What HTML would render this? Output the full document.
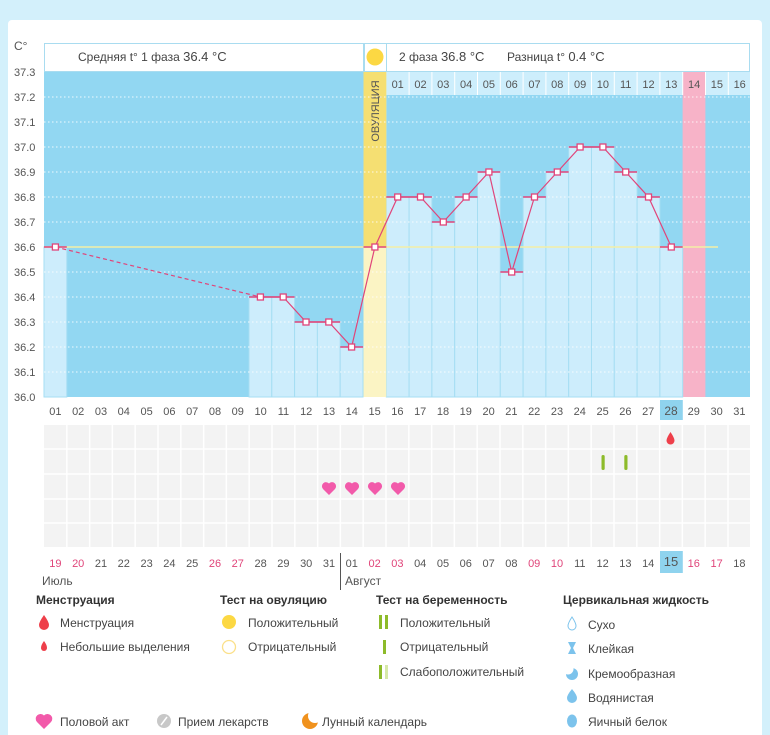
<!DOCTYPE html>
<html><head><meta charset="utf-8"><style>
body{margin:0;background:#d3f0fb;}
svg{display:block;font-family:"Liberation Sans","DejaVu Sans",sans-serif;}
</style></head><body>
<svg width="770" height="735" viewBox="0 0 770 735" xmlns="http://www.w3.org/2000/svg">
<rect x="0" y="0" width="770" height="735" fill="#d3f0fb"/>
<rect x="8" y="20" width="754" height="730" rx="4" fill="#fff"/>
<!-- header -->
<rect x="44.5" y="43.5" width="319" height="28" fill="#fff" stroke="#a9dcf0"/>
<rect x="364.5" y="43.5" width="22" height="28" fill="#fff" stroke="#a9dcf0"/>
<rect x="386.5" y="43.5" width="363" height="28" fill="#fff" stroke="#a9dcf0"/>
<text x="78" y="61" font-size="12" fill="#444">Средняя t° 1 фаза <tspan font-size="13">36.4 °C</tspan></text>
<text x="399" y="61" font-size="12" fill="#444">2 фаза <tspan font-size="13">36.8 °C</tspan></text>
<text x="507" y="61" font-size="12" fill="#444">Разница t° <tspan font-size="13">0.4 °C</tspan></text>
<!-- plot bg -->
<rect x="44" y="72" width="706" height="325" fill="#92d7f2"/>
<rect x="386.3" y="72" width="363.7" height="23" fill="#cdeefc"/>
<rect x="682.6" y="72" width="22.8" height="325" fill="#f7b3c8"/>
<g fill="#cdedfc" stroke="#a6def3" stroke-width="1">
<rect x="44" y="247" width="22.8" height="150"/>
<rect x="249" y="297" width="22.8" height="100"/>
<rect x="271.8" y="297" width="22.8" height="100"/>
<rect x="294.6" y="322" width="22.8" height="75"/>
<rect x="317.4" y="322" width="22.8" height="75"/>
<rect x="340.2" y="347" width="22.8" height="50"/>
<rect x="386.3" y="197" width="22.8" height="200"/>
<rect x="409.1" y="197" width="22.8" height="200"/>
<rect x="431.9" y="222" width="22.8" height="175"/>
<rect x="454.7" y="197" width="22.8" height="200"/>
<rect x="477.5" y="172" width="22.8" height="225"/>
<rect x="500.3" y="272" width="22.8" height="125"/>
<rect x="523.1" y="197" width="22.8" height="200"/>
<rect x="545.9" y="172" width="22.8" height="225"/>
<rect x="568.7" y="147" width="22.8" height="250"/>
<rect x="591.5" y="147" width="22.8" height="250"/>
<rect x="614.3" y="172" width="22.8" height="225"/>
<rect x="637.1" y="197" width="22.8" height="200"/>
<rect x="659.9" y="247" width="22.8" height="150"/>
</g>
<rect x="363.5" y="72" width="22.8" height="325" fill="#fbf4c4"/>
<rect x="363.5" y="72" width="22.8" height="175" fill="#f5df72"/>
<circle cx="375" cy="57" r="8.5" fill="#fcd843"/>
<text transform="translate(379,111) rotate(-90)" font-size="11" fill="#555" text-anchor="middle">ОВУЛЯЦИЯ</text>
<!-- top day labels -->
<g font-size="11" fill="#555" text-anchor="middle">
<text x="397.7" y="88">01</text><text x="420.5" y="88">02</text><text x="443.3" y="88">03</text><text x="466.1" y="88">04</text><text x="488.9" y="88">05</text><text x="511.7" y="88">06</text><text x="534.5" y="88">07</text><text x="557.3" y="88">08</text><text x="580.1" y="88">09</text><text x="602.9" y="88">10</text><text x="625.7" y="88">11</text><text x="648.5" y="88">12</text><text x="671.3" y="88">13</text><text x="694.1" y="88">14</text><text x="716.9" y="88">15</text><text x="739.7" y="88">16</text>
</g>
<g stroke="#fff" stroke-width="1"><path d="M409.1 72v23M431.9 72v23M454.7 72v23M477.5 72v23M500.3 72v23M523.1 72v23M545.9 72v23M568.7 72v23M591.5 72v23M614.3 72v23M637.1 72v23M659.9 72v23M682.7 72v23M705.5 72v23M728.3 72v23"/></g>
<!-- grid -->
<g stroke="#fff" stroke-dasharray="1.5,2.5" stroke-width="1" opacity="0.85">
<path d="M44 97H750M44 122H750M44 147H750M44 172H750M44 197H750M44 222H750M44 272H750M44 297H750M44 322H750M44 347H750M44 372H750"/>
</g>
<path d="M44 247H718" stroke="#f3efa6" stroke-width="1.5"/>
<!-- y labels -->
<g font-size="11" fill="#555">
<text x="14" y="50" font-size="12">C°</text>
<text x="14" y="76">37.3</text><text x="14" y="101">37.2</text><text x="14" y="126">37.1</text><text x="14" y="151">37.0</text><text x="14" y="176">36.9</text><text x="14" y="201">36.8</text><text x="14" y="226">36.7</text><text x="14" y="251">36.6</text><text x="14" y="276">36.5</text><text x="14" y="301">36.4</text><text x="14" y="326">36.3</text><text x="14" y="351">36.2</text><text x="14" y="376">36.1</text><text x="14" y="401">36.0</text>
</g>
<!-- series -->
<g stroke="#e0457a" stroke-width="1.5">
<path d="M44 247h22.8M249 297h45.6M294.6 322h45.6M340.2 347h22.8M363.5 247h22.8M386.3 197h45.6M431.9 222h22.8M454.7 197h22.8M477.5 172h22.8M500.3 272h22.8M523.1 197h22.8M545.9 172h22.8M568.7 147h45.6M614.3 172h22.8M637.1 197h22.8M659.9 247h22.8"/>
</g>
<path d="M55.4 247L260.4 297" stroke="#e0457a" stroke-width="1.2" stroke-dasharray="4,3" fill="none"/>
<polyline points="260.4,297 283.2,297 306,322 328.8,322 351.6,347 374.9,247 397.7,197 420.5,197 443.3,222 466.1,197 488.9,172 511.7,272 534.5,197 557.3,172 580.1,147 602.9,147 625.7,172 648.5,197 671.3,247" fill="none" stroke="#e0457a" stroke-width="1.2"/>
<g fill="#fff" stroke="#e0457a" stroke-width="1.3">
<rect x="52.4" y="244" width="6" height="6"/><rect x="257.4" y="294" width="6" height="6"/><rect x="280.2" y="294" width="6" height="6"/><rect x="303" y="319" width="6" height="6"/><rect x="325.8" y="319" width="6" height="6"/><rect x="348.6" y="344" width="6" height="6"/><rect x="371.9" y="244" width="6" height="6"/><rect x="394.7" y="194" width="6" height="6"/><rect x="417.5" y="194" width="6" height="6"/><rect x="440.3" y="219" width="6" height="6"/><rect x="463.1" y="194" width="6" height="6"/><rect x="485.9" y="169" width="6" height="6"/><rect x="508.7" y="269" width="6" height="6"/><rect x="531.5" y="194" width="6" height="6"/><rect x="554.3" y="169" width="6" height="6"/><rect x="577.1" y="144" width="6" height="6"/><rect x="599.9" y="144" width="6" height="6"/><rect x="622.7" y="169" width="6" height="6"/><rect x="645.5" y="194" width="6" height="6"/><rect x="668.3" y="244" width="6" height="6"/>
</g>
<!-- bottom day row -->
<rect x="660" y="400" width="22.8" height="20" fill="#8fd3ee"/>
<g font-size="11" fill="#555" text-anchor="middle">
<text x="55.4" y="415">01</text><text x="78.2" y="415">02</text><text x="101" y="415">03</text><text x="123.8" y="415">04</text><text x="146.6" y="415">05</text><text x="169.4" y="415">06</text><text x="192.2" y="415">07</text><text x="215" y="415">08</text><text x="237.8" y="415">09</text><text x="260.6" y="415">10</text><text x="283.4" y="415">11</text><text x="306.2" y="415">12</text><text x="329" y="415">13</text><text x="351.8" y="415">14</text><text x="374.6" y="415">15</text><text x="397.4" y="415">16</text><text x="420.2" y="415">17</text><text x="443" y="415">18</text><text x="465.8" y="415">19</text><text x="488.6" y="415">20</text><text x="511.4" y="415">21</text><text x="534.2" y="415">22</text><text x="557" y="415">23</text><text x="579.8" y="415">24</text><text x="602.6" y="415">25</text><text x="625.4" y="415">26</text><text x="648.2" y="415">27</text><text x="671" y="415" font-size="12">28</text><text x="693.8" y="415">29</text><text x="716.6" y="415">30</text><text x="739.4" y="415">31</text>
</g>
<!-- event grid -->
<rect x="44" y="425" width="706" height="122" fill="#f3f3f3"/>
<g stroke="#fff" stroke-width="1.5">
<path d="M44 449H750M44 474H750M44 499H750M44 523H750"/>
<path d="M66.8 425v122M89.6 425v122M112.4 425v122M135.2 425v122M158 425v122M180.8 425v122M203.6 425v122M226.4 425v122M249.2 425v122M272 425v122M294.8 425v122M317.6 425v122M340.4 425v122M363.2 425v122M386 425v122M408.8 425v122M431.6 425v122M454.4 425v122M477.2 425v122M500 425v122M522.8 425v122M545.6 425v122M568.4 425v122M591.2 425v122M614 425v122M636.8 425v122M659.6 425v122M682.4 425v122M705.2 425v122M728 425v122"/>
</g>
<path d="M670.5 432 Q666.5 438 666.5 440.5 A4 4 0 0 0 674.5 440.5 Q674.5 438 670.5 432Z" fill="#ee3f4a"/>
<rect x="601.5" y="455" width="3.2" height="15" rx="1.5" fill="#8dbb2a"/>
<rect x="624.3" y="455" width="3.2" height="15" rx="1.5" fill="#8dbb2a"/>
<g fill="#f25aaa">
<path d="M329 495 L323 489 A3.3 3.3 0 0 1 329 483.5 A3.3 3.3 0 0 1 335 489Z"/>
<path d="M352 495 L346 489 A3.3 3.3 0 0 1 352 483.5 A3.3 3.3 0 0 1 358 489Z"/>
<path d="M375 495 L369 489 A3.3 3.3 0 0 1 375 483.5 A3.3 3.3 0 0 1 381 489Z"/>
<path d="M398 495 L392 489 A3.3 3.3 0 0 1 398 483.5 A3.3 3.3 0 0 1 404 489Z"/>
</g>
<!-- second date row -->
<rect x="660" y="551" width="22.8" height="22" fill="#8fd3ee"/>
<g font-size="11" fill="#555" text-anchor="middle">
<text x="55.4" y="567" fill="#e0457a">19</text><text x="78.2" y="567" fill="#e0457a">20</text><text x="101" y="567">21</text><text x="123.8" y="567">22</text><text x="146.6" y="567">23</text><text x="169.4" y="567">24</text><text x="192.2" y="567">25</text><text x="215" y="567" fill="#e0457a">26</text><text x="237.8" y="567" fill="#e0457a">27</text><text x="260.6" y="567">28</text><text x="283.4" y="567">29</text><text x="306.2" y="567">30</text><text x="329" y="567">31</text><text x="351.8" y="567">01</text><text x="374.6" y="567" fill="#e0457a">02</text><text x="397.4" y="567" fill="#e0457a">03</text><text x="420.2" y="567">04</text><text x="443" y="567">05</text><text x="465.8" y="567">06</text><text x="488.6" y="567">07</text><text x="511.4" y="567">08</text><text x="534.2" y="567" fill="#e0457a">09</text><text x="557" y="567" fill="#e0457a">10</text><text x="579.8" y="567">11</text><text x="602.6" y="567">12</text><text x="625.4" y="567">13</text><text x="648.2" y="567">14</text><text x="671" y="566" font-size="13">15</text><text x="693.8" y="567" fill="#e0457a">16</text><text x="716.6" y="567" fill="#e0457a">17</text><text x="739.4" y="567">18</text>
</g>
<path d="M340.5 553V590" stroke="#555"/>
<text x="42" y="585" font-size="12" fill="#555">Июль</text>
<text x="345" y="585" font-size="12" fill="#555">Август</text>
<!-- legend -->
<g font-size="12" fill="#333" font-weight="bold">
<text x="36" y="604">Менструация</text><text x="220" y="604">Тест на овуляцию</text><text x="376" y="604">Тест на беременность</text><text x="563" y="604">Цервикальная жидкость</text>
</g>
<g font-size="12" fill="#444">
<text x="60" y="627">Менструация</text><text x="60" y="651">Небольшие выделения</text>
<text x="248" y="627">Положительный</text><text x="248" y="651">Отрицательный</text>
<text x="400" y="627">Положительный</text><text x="400" y="651">Отрицательный</text><text x="400" y="676">Слабоположительный</text>
<text x="588" y="629">Сухо</text><text x="588" y="653">Клейкая</text><text x="588" y="678">Кремообразная</text><text x="588" y="702">Водянистая</text><text x="588" y="726">Яичный белок</text>
<text x="60" y="726">Половой акт</text><text x="178" y="726">Прием лекарств</text><text x="322" y="726">Лунный календарь</text>
</g>
<path d="M44 615 Q39 622 39 625 A5 5 0 0 0 49 625 Q49 622 44 615Z" fill="#ee3f4a"/>
<path d="M44 641 Q41 645 41 648 A3 3 0 0 0 47 648 Q47 645 44 641Z" fill="#ee3f4a"/>
<circle cx="229" cy="622" r="7" fill="#fcd843"/>
<circle cx="229" cy="647" r="6.5" fill="none" stroke="#fbe08a" stroke-width="1.3"/>
<rect x="379" y="615" width="3" height="14" fill="#8dbb2a"/><rect x="385" y="615" width="3" height="14" fill="#8dbb2a"/>
<rect x="383" y="640" width="3" height="14" fill="#8dbb2a"/>
<rect x="379" y="665" width="3" height="14" fill="#8dbb2a"/><rect x="385" y="665" width="3" height="14" fill="#d7e9a8"/>
<path d="M572 617 Q568 623 568 626 A4 4 0 0 0 576 626 Q576 623 572 617Z" fill="none" stroke="#7cc3ec"/>
<path d="M568 642h8l-3 6 3 6h-8l3-6z" fill="#7cc3ec"/>
<circle cx="572" cy="674" r="6" fill="#7cc3ec"/><circle cx="568" cy="669" r="5.5" fill="#fff"/>
<path d="M572 689 Q567 695 567 698 A5 5 0 0 0 577 698 Q577 695 572 689Z" fill="#7cc3ec"/>
<ellipse cx="572" cy="721" rx="5" ry="6.5" fill="#7cc3ec"/>
<path d="M44 729 L37 722 A3.8 3.8 0 0 1 44 715.5 A3.8 3.8 0 0 1 51 722Z" fill="#f25aaa"/>
<circle cx="164" cy="721" r="7" fill="#c8c8c8"/><path d="M161 725L167 717" stroke="#fff" stroke-width="1.5"/>
<circle cx="310" cy="721" r="8" fill="#f0921e"/><circle cx="315" cy="716" r="7" fill="#fff"/>
</svg>
</body></html>
